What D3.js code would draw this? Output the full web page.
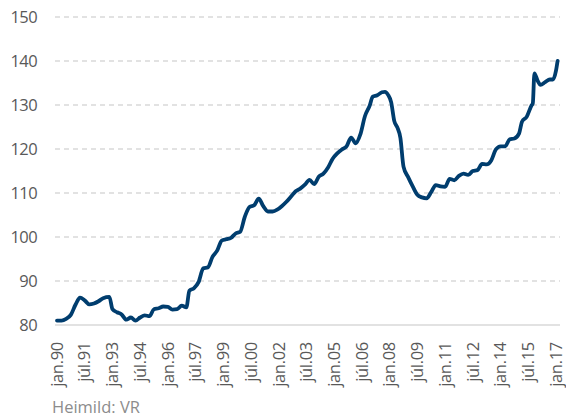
<!DOCTYPE html>
<html>
<head>
<meta charset="utf-8">
<script src="https://cdn.jsdelivr.net/npm/d3@7"></script>
<style>
  html, body { margin: 0; padding: 0; background: #fff; }
  svg { display: block; font-family: "Open Sans", sans-serif; }
</style>
</head>
<body>
<script>
// Index values (irregular dates, denser where the line turns)
const dates = ["1990-01","1990-04","1990-07","1990-10","1991-01","1991-04","1991-07","1991-10",
  "1992-01","1992-04","1992-07","1992-11","1993-01","1993-04","1993-07","1993-10",
  "1994-01","1994-04","1994-07","1994-10","1995-01","1995-04","1995-07","1995-10",
  "1996-01","1996-04","1996-07","1996-10","1997-01","1997-03","1997-06","1997-09","1997-12",
  "1998-03","1998-06","1998-09","1998-12","1999-03","1999-06","1999-09","1999-12",
  "2000-03","2000-06","2000-09","2000-12","2001-03","2001-06","2001-09","2001-12",
  "2002-03","2002-06","2002-09","2002-12","2003-03","2003-06","2003-09","2003-12",
  "2004-03","2004-06","2004-09","2004-12","2005-03","2005-06","2005-09","2005-12",
  "2006-03","2006-06","2006-09","2006-12","2007-02","2007-05","2007-08","2007-10","2007-12",
  "2008-02","2008-04","2008-06","2008-08","2008-10","2009-01","2009-04","2009-07","2009-10",
  "2010-01","2010-04","2010-07","2010-10","2011-01","2011-04","2011-07","2011-10",
  "2012-01","2012-04","2012-07","2012-10","2013-01","2013-04","2013-07","2013-10",
  "2014-01","2014-04","2014-07","2014-10","2015-01","2015-03","2015-06","2015-09","2015-10","2015-11",
  "2016-01","2016-03","2016-06","2016-09","2016-11","2017-01","2017-02"];

const values = [81.0,81.0,81.4,82.3,84.6,86.2,85.6,84.7,
  84.9,85.4,86.1,86.4,83.6,82.9,82.4,81.2,
  81.7,81.0,81.7,82.2,82.0,83.6,83.8,84.2,
  84.1,83.5,83.6,84.4,84.0,87.8,88.4,89.8,92.9,
  93.1,95.5,96.9,99.2,99.5,99.8,100.8,101.2,
  104.6,106.8,107.2,108.7,107.0,105.8,105.8,106.2,
  107.0,108.0,109.2,110.4,111.0,111.9,113.0,112.0,
  113.7,114.4,115.8,117.8,119.0,119.9,120.6,122.6,
  121.3,123.3,127.5,129.8,131.9,132.2,132.9,133.0,132.3,
  130.6,126.4,124.9,122.5,116.0,113.6,111.5,109.6,109.0,
  108.8,110.2,111.8,111.5,111.4,113.2,112.9,113.9,
  114.4,114.1,115.0,115.2,116.6,116.5,117.4,119.9,
  120.6,120.6,122.2,122.4,123.5,126.2,127.3,129.8,130.4,137.2,
  135.6,134.6,135.2,135.8,135.8,137.8,140.0];

const yTicks = [80, 90, 100, 110, 120, 130, 140, 150];
const xTickDates = ["1990-01","1991-07","1993-01","1994-07","1996-01","1997-07","1999-01",
  "2000-07","2002-01","2003-07","2005-01","2006-07","2008-01","2009-07","2011-01",
  "2012-07","2014-01","2015-07","2017-01"];
const monthNames = ["jan","feb","mar","apr","maí","jún","júl","ágú","sep","okt","nóv","des"];
const source = "Heimild: VR";

const width = 566, height = 418;
const margin = {left: 57, right: 10, top: 17, bottom: 93};

const parse = d3.timeParse("%Y-%m");
const data = dates.map((d, i) => ({date: parse(d), value: values[i]}));

const svg = d3.select("body").append("svg")
    .attr("width", width)
    .attr("height", height);

const x = d3.scaleTime()
    .domain([parse("1990-01"), parse("2017-01")])
    .range([margin.left, 556]);

const y = d3.scaleLinear()
    .domain([80, 150])
    .range([height - margin.bottom, margin.top]);

// gridlines
svg.append("g")
  .selectAll("line")
  .data(yTicks.filter(t => t > 80))
  .enter().append("line")
    .attr("x1", 55)
    .attr("x2", 560)
    .attr("y1", d => y(d))
    .attr("y2", d => y(d))
    .attr("stroke", "#d9d9d9")
    .attr("stroke-width", 1.3)
    .attr("stroke-dasharray", "5,4");

// baseline
svg.append("line")
    .attr("x1", 55)
    .attr("x2", 560)
    .attr("y1", y(80))
    .attr("y2", y(80))
    .attr("stroke", "#d9d9d9")
    .attr("stroke-width", 1.5);

// y labels
svg.append("g")
  .selectAll("text")
  .data(yTicks)
  .enter().append("text")
    .attr("x", 37)
    .attr("y", d => y(d))
    .attr("dy", "0.35em")
    .attr("text-anchor", "end")
    .attr("font-size", 16.5)
    .attr("letter-spacing", -0.6)
    .attr("fill", "#595959")
    .text(d => d);

// x labels, rotated
svg.append("g")
  .selectAll("text")
  .data(xTickDates.map(parse))
  .enter().append("text")
    .attr("transform", d => `translate(${x(d)},${y(80) + 17}) rotate(-90)`)
    .attr("dy", "0.35em")
    .attr("text-anchor", "end")
    .attr("font-size", 16.5)
    .attr("letter-spacing", -0.3)
    .attr("fill", "#595959")
    .text(d => monthNames[d.getMonth()] + "." + d3.timeFormat("%y")(d));

// line
const line = d3.line()
    .x(d => x(d.date))
    .y(d => y(d.value))
    .curve(d3.curveMonotoneX);

svg.append("path")
    .datum(data)
    .attr("fill", "none")
    .attr("stroke", "#003d6e")
    .attr("stroke-width", 3.8)
    .attr("stroke-linejoin", "round")
    .attr("stroke-linecap", "round")
    .attr("d", line);

svg.append("text")
    .attr("x", 52)
    .attr("y", 413)
    .attr("font-size", 16.5)
    .attr("fill", "#8c8c8c")
    .text(source);
</script>
</body>
</html>
